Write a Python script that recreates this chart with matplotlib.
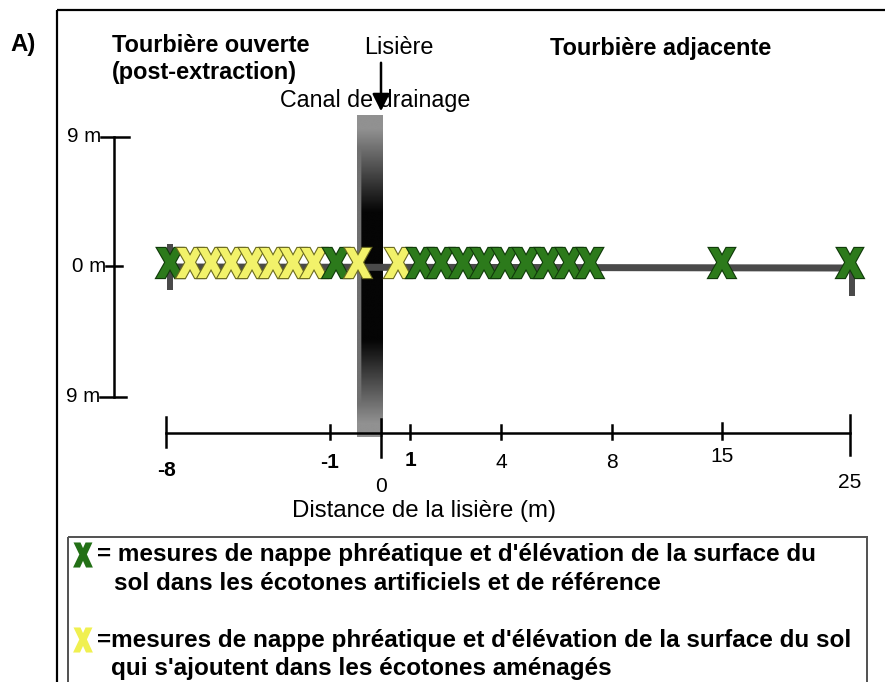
import numpy as np
import matplotlib
matplotlib.use("Agg")
import matplotlib.pyplot as plt
import matplotlib.patheffects as pe
from matplotlib.patches import Rectangle, PathPatch
from matplotlib.textpath import TextPath
from matplotlib.font_manager import FontProperties
from matplotlib.transforms import Affine2D

plt.rcParams['font.family'] = ['Liberation Sans', 'DejaVu Sans']

# ---------------- data ----------------
dist_labels = ['-8', '-1', '0', '1', '4', '8', '15', '25']
dist_pos = [166, 330, 381, 410, 501, 612, 722, 850]          # schematic positions
dist_bold = [True, True, False, True, False, False, False, False]
dist_label_y = [471, 463, 487, 460, 462, 462, 457, 482]
tick_up = [16, 8, 14, 8, 8, 8, 10, 18]
tick_down = [14, 6, 24, 6, 6, 6, 6, 22]

depth_labels = ['9 m', '0 m', '9 m']
depth_pos = [137, 266, 397]

# measurement points along the transect (schematic positions) and type
point_pos = [170, 190, 211, 231, 252, 273, 293, 314, 336, 358,
             398, 420, 441, 463, 484, 505, 526, 548, 569, 590,
             722, 850]
point_type = ['G', 'Y', 'Y', 'Y', 'Y', 'Y', 'Y', 'Y', 'G', 'Y',
              'Y', 'G', 'G', 'G', 'G', 'G', 'G', 'G', 'G', 'G',
              'G', 'G']

legend_lines = [
    ("= mesures de nappe phréatique et d'élévation de la surface du",
     "sol dans les écotones artificiels et de référence"),
    ("=mesures de nappe phréatique et d'élévation de la surface du sol",
     "qui s'ajoutent dans les écotones aménagés"),
]

# ---------------- figure ----------------
W, H = 885, 682
fig = plt.figure(figsize=(W / 100, H / 100), dpi=100)
ax = fig.add_axes([0, 0, 1, 1])
ax.set_xlim(0, W)
ax.set_ylim(H, 0)
ax.axis('off')

def px(p):
    return p * 72 / 100.0

GREEN = '#2c7a1b'
GREEN_E = '#103a0a'
YELLOW = '#f2f26a'
YELLOW_E = '#6a6a20'

# glyph "X" as a path, rescaled to an arbitrary box
_xpath = TextPath((0, 0), 'X', size=1,
                  prop=FontProperties(family='Liberation Sans', weight='bold'))
_ext = _xpath.get_extents()

def draw_x(xc, yc, w, h, fc, ec, thick, outline, z=5):
    tr = (Affine2D()
          .translate(-(_ext.x0 + _ext.x1) / 2, -(_ext.y0 + _ext.y1) / 2)
          .scale(w / _ext.width, -h / _ext.height)
          .translate(xc, yc))
    patch = PathPatch(_xpath, facecolor=fc, edgecolor=fc, lw=thick,
                      transform=tr + ax.transData, zorder=z)
    effects = []
    if outline > 0:
        effects.append(pe.Stroke(linewidth=thick + outline, foreground=ec))
    effects.append(pe.Normal())
    patch.set_path_effects(effects)
    ax.add_patch(patch)

# outer frame
ax.plot([57, 57], [10, H + 5], color='black', lw=px(2.2), solid_capstyle='butt')
ax.plot([57, W + 5], [10, 10], color='black', lw=px(2.2), solid_capstyle='butt')

# "A)"
ax.text(10, 45, 'A)', fontsize=px(24), fontweight='bold', ha='left', va='center')

# titles
ax.text(112, 45, 'Tourbière ouverte', fontsize=px(23.5), fontweight='bold', va='center')
ax.text(112, 73, '(post-extraction)', fontsize=px(23.5), fontweight='bold', va='center')
ax.text(550, 48, 'Tourbière adjacente', fontsize=px(23.5), fontweight='bold', va='center')
ax.text(399, 48, 'Lisière', fontsize=px(23.5), ha='center', va='center')
ax.text(375, 100, 'Canal de drainage', fontsize=px(23.3), ha='center', va='center')

# drainage channel (gradient bar)
ny, nx = 200, 30
yy = np.linspace(0, 1, ny)[:, None]
xx = np.linspace(0, 1, nx)[None, :]
vert = np.clip(np.maximum((0.30 - yy) / 0.26, (yy - 0.70) / 0.26), 0, 1) * 0.55
horiz = np.where(xx < 0.14, 0.42, 0.0)
img = np.maximum(vert, horiz)
img = np.clip(img + 0.02, 0, 1)
ax.imshow(img, cmap='gray', vmin=0, vmax=1, extent=[357, 383, 437, 115],
          aspect='auto', interpolation='bilinear', zorder=2)

# arrow for "Lisière"
ax.annotate('', xy=(381, 114), xytext=(381, 60),
            arrowprops=dict(arrowstyle='-|>', color='black', lw=px(2.5),
                            mutation_scale=26), zorder=6)

# vertical depth scale
vx = 114
ax.plot([vx, vx], [depth_pos[0], depth_pos[-1]], color='black', lw=px(2.5))
tick_half = [(-13, 15), (-8, 8), (-14, 12)]
for yv, lab, (a, b) in zip(depth_pos, depth_labels, tick_half):
    ax.plot([vx + a, vx + b], [yv, yv], color='black', lw=px(2.5))
    ax.text(vx + a, yv, lab, fontsize=px(20.5), ha='right', va='center')

# transect line and posts
ax.plot([dist_pos[0], dist_pos[-1]], [267, 268], color='#4a4a4a', lw=px(7),
        solid_capstyle='butt', zorder=3)
ax.plot([170, 170], [244, 290], color='#4a4a4a', lw=px(6), solid_capstyle='butt', zorder=3)
ax.plot([852, 852], [262, 296], color='#4a4a4a', lw=px(6), solid_capstyle='butt', zorder=3)

# measurement points
for xp, t in zip(point_pos, point_type):
    fc, ec = (GREEN, GREEN_E) if t == 'G' else (YELLOW, YELLOW_E)
    draw_x(xp, 263, 22, 27, fc, ec, 2.2, 1.6)

# horizontal distance axis
axy = 433
ax.plot([dist_pos[0], dist_pos[-1]], [axy, axy], color='black', lw=px(2.5), zorder=4)
for xp, lab, b, ly, up, dn in zip(dist_pos, dist_labels, dist_bold, dist_label_y, tick_up, tick_down):
    ax.plot([xp, xp], [axy - up, axy + dn], color='black', lw=px(2.5), zorder=4)
    ax.text(xp, ly, lab, fontsize=px(21), fontweight='bold' if b else 'normal',
            ha='center', va='center')
ax.text(424, 511, 'Distance de la lisière (m)', fontsize=px(24), ha='center', va='center')

# legend box
ax.add_patch(Rectangle((68, 537), 867 - 68, 200, fill=False, edgecolor='#555555',
                       lw=px(2)))
leg_y = [555, 640]
leg_col = ['#237016', '#f0f050']
leg_indent = [114, 111]
for (l1, l2), yv, c, ind in zip(legend_lines, leg_y, leg_col, leg_indent):
    draw_x(83, yv, 15, 22, c, c, 2.2, 0)
    ax.text(97, yv, l1, fontsize=px(24.3), fontweight='bold', ha='left', va='center')
    ax.text(ind, yv + 28, l2, fontsize=px(24.3), fontweight='bold', ha='left', va='center')

fig.savefig('out.png', dpi=100)
